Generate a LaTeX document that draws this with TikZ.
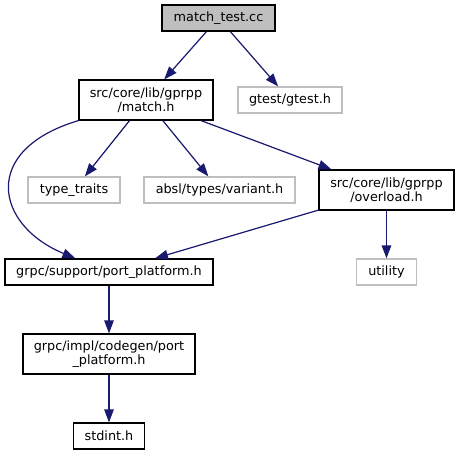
\documentclass[tikz,border=0pt]{standalone}
\usepackage{fontspec}
\setmainfont{DejaVu Sans}
\usetikzlibrary{arrows.meta}
\definecolor{edgeblue}{HTML}{191970}
\definecolor{extgrey}{HTML}{BFBFBF}

\begin{document}
\begin{tikzpicture}[x=1pt, y=-1pt, font=\fontsize{12.8}{14}\selectfont,
    file/.style={draw=black, line width=1.2pt, inner sep=0pt, minimum height=26, align=center},
    ext/.style={file, draw=extgrey},
    dep/.style={-{Triangle[length=13pt,width=9.5pt]}, draw=edgeblue, fill=edgeblue, line width=1.2pt}]
      \useasboundingbox (0,0) rectangle (459,455);
      \node[file, fill=extgrey, minimum width=113] (0) at (218.5,18) {match\_test.cc};
      \node[file, minimum width=134, minimum height=40] (1) at (146,100) {src/core/lib/gprpp\\/match.h};
      \node[ext, minimum width=104] (2) at (290,100) {gtest/gtest.h};
      \node[ext, minimum width=92] (3) at (74,190) {type\_traits};
      \node[ext, minimum width=151] (4) at (219.5,190) {absl/types/variant.h};
      \node[file, minimum width=135, minimum height=40] (5) at (386.5,190) {src/core/lib/gprpp\\/overload.h};
      \node[file, minimum width=208] (6) at (109,272) {grpc/support/port\_platform.h};
      \node[ext, minimum width=60] (7) at (386.5,272) {utility};
      \node[file, minimum width=172, minimum height=40] (8) at (109,354) {grpc/impl/codegen/port\\\_platform.h};
      \node[file, minimum width=71] (9) at (109,436) {stdint.h};
      \draw[dep] (0) -- (1);
      \draw[dep] (0) -- (2);
      \draw[dep] (1) -- (3);
      \draw[dep] (1) -- (4);
      \draw[dep] (1) -- (5);
      \draw[dep, fill=none] (1.south west) .. controls (-20,150) and (-5,225) .. ([xshift=71pt]6.north west);
      \draw[dep] (5) -- (6);
      \draw[dep] (5) -- (7);
      \draw[dep] (6) -- (8);
      \draw[dep] (8) -- (9);
    \end{tikzpicture}
\end{document}
